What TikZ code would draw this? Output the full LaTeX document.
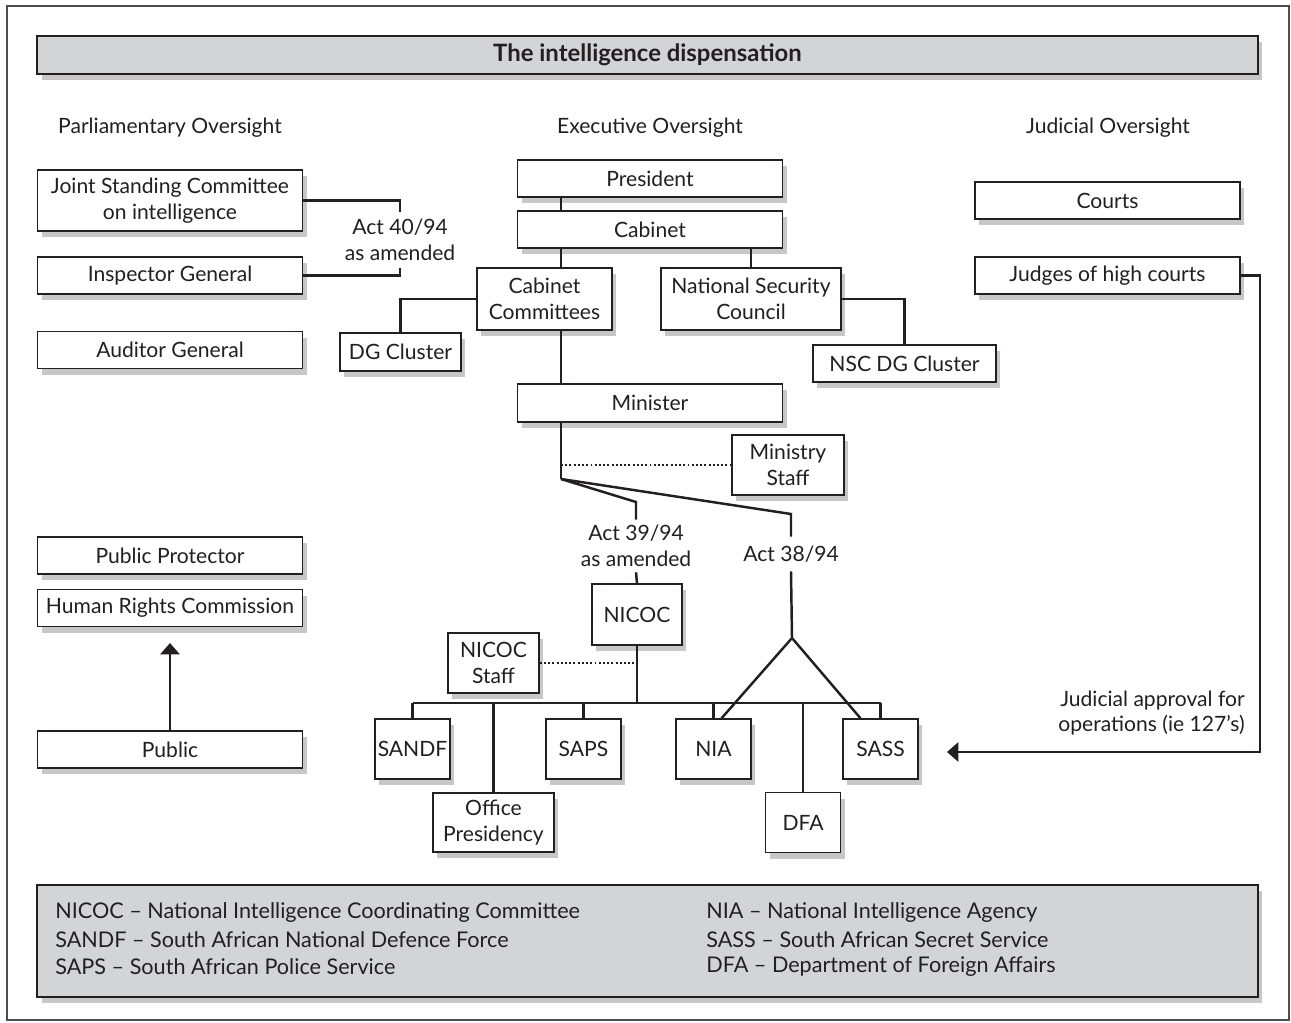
\documentclass[tikz,border=0pt]{standalone}
\usepackage{fontspec}
\setmainfont{Lato}
\usetikzlibrary{positioning,arrows.meta,shadows,calc}
\definecolor{bargray}{RGB}{211,212,214}
\definecolor{ink}{RGB}{35,31,32}

\begin{document}
\begin{tikzpicture}[
  x=0.02cm, y=-0.02cm,
  font=\fontsize{12}{14.7}\selectfont,
  box/.style={rectangle,draw=ink,fill=white,line width=0.8pt,inner sep=0pt,align=center,text=ink,
    drop shadow={shadow xshift=2.5pt,shadow yshift=-3.5pt,fill=black,opacity=.22}},
  wide/.style={box,minimum width=5.3cm,minimum height=0.74cm},
  agency/.style={box,minimum width=1.5cm,minimum height=1.2cm},
  bar/.style={box,fill=bargray,minimum width=24.42cm},
  head/.style={text=ink,inner sep=0pt},
  act/.style={align=center,inner sep=0pt,text=ink},
  link/.style={draw=ink,line width=1.4pt},
  staffline/.style={draw=ink,line width=1.1pt,dash pattern=on 1.1pt off 1.3pt},
  key/.style={anchor=west,inner sep=0pt,text=ink,font=\fontsize{12.3}{14.7}\selectfont}
]
\useasboundingbox (0,0) rectangle (1291,1023);
\draw[draw=ink!80,line width=0.9pt] (7,6) rectangle (1289,1020);

% title and column heads
\node[bar,minimum height=0.76cm,font=\fontsize{13.6}{16}\selectfont\bfseries] (title) at (647.5,55) {The intelligence dispensation};
\node[head] (parl) at (170,128) {Parliamentary Oversight};
\node[head] (exec) at (650,128) {Executive Oversight};
\node[head] (jud) at (1108,128) {Judicial Oversight};

% parliamentary side
\node[wide,minimum height=1.22cm] (jsc) at (170,200.5) {Joint Standing Committee\\on intelligence};
\node[wide] (ig) at (170,275.5) {Inspector General};
\node[wide] (ag) at (170,350) {Auditor General};
\node[act,minimum height=1.12cm] (act40) at (400,240) {Act 40/94\\as amended};
\node[wide] (pp) at (170,555.5) {Public Protector};
\node[wide] (hrc) at (170,608) {Human Rights Commission};
\node[wide] (public) at (170,749.5) {Public};

% executive side
\node[wide] (president) at (650,178.5) {President};
\node[wide] (cabinet) at (650,229.5) {Cabinet};
\node[box,minimum width=2.7cm,minimum height=1.24cm] (cabcom) at (544.5,299) {Cabinet\\Committees};
\node[box,minimum width=3.6cm,minimum height=1.24cm] (nsc) at (751,299) {National Security\\Council};
\node[box,minimum width=2.42cm,minimum height=0.76cm] (dgc) at (400.5,352) {DG Cluster};
\node[box,minimum width=3.66cm,minimum height=0.74cm] (nscdg) at (904.5,363.5) {NSC DG Cluster};
\node[wide,minimum height=0.76cm] (minister) at (650,403) {Minister};
\node[box,minimum width=2.24cm,minimum height=1.2cm] (mstaff) at (788,465) {Ministry\\Staff};
\node[act,minimum height=1.04cm] (act39) at (636,546) {Act 39/94\\as amended};
\node[act,minimum height=0.68cm] (act38) at (791,554) {Act 38/94};
\node[box,minimum width=1.8cm,minimum height=1.22cm] (nicoc) at (637,614.5) {NICOC};
\node[box,minimum width=1.82cm,minimum height=1.2cm] (nstaff) at (493.5,663) {NICOC\\Staff};
\node[agency] (sandf) at (412.5,749) {SANDF};
\node[box,minimum width=2.42cm,minimum height=1.18cm] (offpres) at (493.5,822.5) {Office\\Presidency};
\node[agency] (saps) at (583.5,749) {SAPS};
\node[agency] (nia) at (713.5,749) {NIA};
\node[agency] (dfa) at (803,822.5) {DFA};
\node[agency] (sass) at (880.5,749) {SASS};

% judicial side
\node[wide] (courts) at (1107.5,200.5) {Courts};
\node[wide] (judges) at (1107.5,275.5) {Judges of high courts};
\node[act,anchor=east,align=right] (approval) at (1245,713) {Judicial approval for\\operations (ie 127’s)};

\coordinate (trunk) at (561,0);
\coordinate (split) at (561,479);
\coordinate (apex) at (792,638);
\coordinate (bus) at (0,703);
\coordinate (jturn) at (1260,752);
\coordinate (appr) at (947,752);

% connectors
\draw[link] (jsc.east) -| (act40.north);
\draw[link] (ig.east) -| (act40.south);
\draw[link,-{Triangle[length=6.5pt,width=11pt]},shorten >=9pt] (public.north) -- (hrc.south);
\draw[link] (trunk |- president.south) -- (trunk |- cabinet.north);
\draw[link] (trunk |- cabinet.south) -- (trunk |- cabcom.north);
\draw[link] (nsc.north |- cabinet.south) -- (nsc.north);
\draw[link] (cabcom.west) -| (dgc.north);
\draw[link] (nsc.east) -| (nscdg.north);
\draw[link] (trunk |- cabcom.south) -- (trunk |- minister.north);
\draw[link] (trunk |- minister.south) -- (split);
\draw[staffline] (split |- mstaff.west) -- (mstaff.west);
\draw[link] (split) -- (act39.north |- 0,502) -- (act39.north);
\draw[link] (split) -- (act38.north |- 0,514) -- (act38.north);
\draw[link] (act39.south) -- (nicoc.north);
\draw[link] (act38.south) -- (apex);
\draw[link] ($(nia.north)+(8,0)$) -- (apex) -- ($(sass.north)+(-20,0)$);
\draw[link] (nicoc.south) -- (nicoc.south |- bus);
\draw[staffline] (nstaff.east) -- (nicoc.south |- nstaff.east);
\draw[link] (sandf.north |- bus) -- (sass.north |- bus);
\foreach \n in {sandf,offpres,saps,nia,dfa,sass}
  \draw[link] (\n.north |- bus) -- (\n.north);
\draw[link,-{Triangle[length=6.5pt,width=11pt]}] (judges.east) -| (jturn) -- (appr);

% key
\node[bar,minimum height=2.24cm] (legend) at (647.5,941) {};
\node[key] (k1) at (55,913) {NICOC – National Intelligence Coordinating Committee};
\node[key] (k2) at (55,940) {SANDF – South African National Defence Force};
\node[key] (k3) at (55,967) {SAPS – South African Police Service};
\node[key] (k4) at (706,913) {NIA – National Intelligence Agency};
\node[key] (k5) at (706,940) {SASS – South African Secret Service};
\node[key] (k6) at (706,967) {DFA – Department of Foreign Affairs};

\end{tikzpicture}
\end{document}
